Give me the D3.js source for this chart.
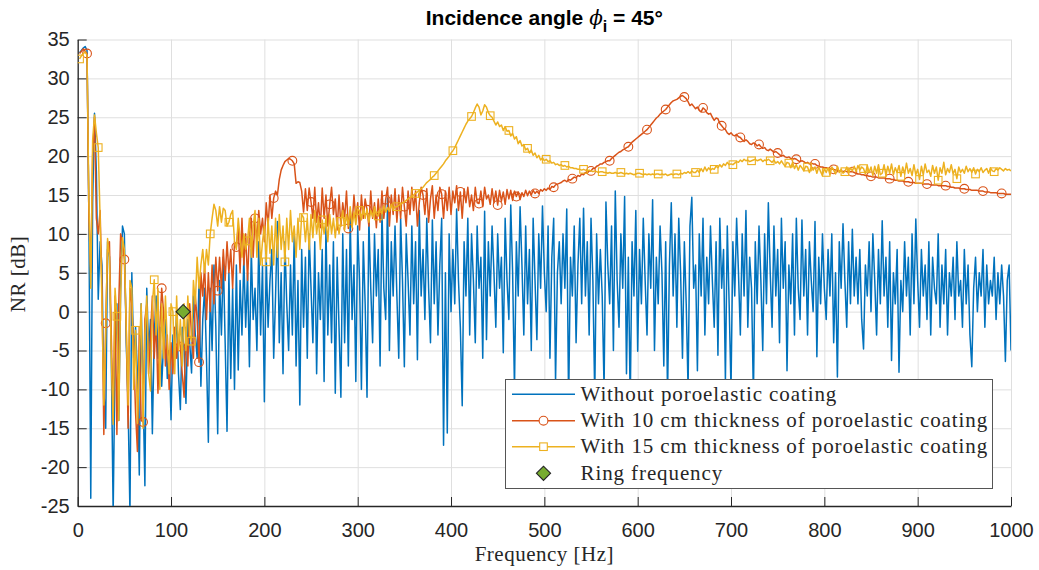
<!DOCTYPE html>
<html><head><meta charset="utf-8">
<script src="https://cdn.jsdelivr.net/npm/d3@7"></script>
<style>body{margin:0;background:#fff}</style>
</head><body><svg id="c" width="1039" height="570"></svg>
<script>
// ---------- data ----------
const freq = d3.range(2, 1001, 2); // Hz, 500 samples
const xTicks = [0,100,200,300,400,500,600,700,800,900,1000];
const yTicks = [-25,-20,-15,-10,-5,0,5,10,15,20,25,30,35];
const seriesNames = ["Without poroelastic coating","With 10 cm thickness of poroelastic coating","With 15 cm thickness of poroelastic coating","Ring frequency"];

const noCoating = [
33.3,33.6,33.9,34.1,33.6,12,-24,14,25.5,18,
1.6,9,6,-10,-15,9,7,-6,-26,-6,
1,-14,3,11,10,-4,-12,-26,5,-6,
-2,-8,-21,1,-10,-22.4,3,-5,-1,-15.7,
-3,2,-6,-2,-9.6,-4,-1,-8.6,-5,-13.9,
-3,-6,0,-8,-12.6,-2,-5,-11.8,-1,-4,
-7.9,2,-3,-6,4,-9.6,-1,3,-6,-16.8,
3,-5,6,-2,-15.7,4,-3,7,-4,-15.4,
5,-8.6,3,-10,6,-7.5,4,-3,7,-2,
5,-7.1,8,-1,3,-5,9,-3,6,-11.6,
7,-2,4,8,-6,2,11.6,-4,5,-8,
9,1,-5,6,-3,10,-7,4,-12,8,
-2,7,-6,10,3,-4,9,-8,5,-1,
8,-9,11,-3,6,-4,9,-10.5,7,-2,
-11,10,-4,8,-7,12,-1,6,-9,11,
4,-10,9,1,-11,12,3,-4,10,2,
8,-7,13,3,-1,14.6,-5,9,2,11,
2,-6,12,4,-7.1,10,4,-3,11,1,
9,-6.2,13,2,8,-1,12,3,-4,11.8,
1,9,-3,6,12,-17.2,5,-15.6,10,0,
8,1,13.2,4,-2,-12.1,9,2,12,-3,
10,4,-4,11,3,7,-6,12.9,-3.6,9,
2,11,5,-2,10,3,7,-5.3,12,4,
-1,13.7,5,-10,9,2,13.5,6,-3,11,
1,8,-5,12,4,-3.6,10,3,13.6,5,
0,11,-6,7,12,-9,5,9,1,10,
3,13.2,-12,7,2,11,-4,6,12,1,
13.3,2,9,-3,12,4,-11,10,1,8,
2,-10,14.1,6,1,11,-5,15.5,4,-2,
10,3,14.8,-8,7,-12,9,2,13,-5.1,
8,1,12,4,-3,10,3,14.4,-5,7,
1,11,5,-7,9,-11,6,14,2,10,
-2,12,5,-6,9,1,-10,11,14.7,3,
6,-7.6,10,2,12,-3,7,1,11,4,
-2,9,-5.6,12,3,8,-9,11,1,-10,
9,2,12,5,-3,10,2,13,-2,7,
3,-11,9,1,11,4,-5,10,1,14,
5,-2,11,2,8,-4,12,3,9,-7.6,
6,1,10,-3,12,3,-1,11.8,2,8,
-3,9,4,0,11.6,-5.8,7,1,10,3,
-1,8,2,10,-4,5,-8.4,9,3,11.3,
4,-2,9,1,10.6,2,7,1,8,-1,
-4.8,6,2,9,0,10,4,-3,8,1,
11.7,2,7,-2,9,-6.3,5,1,8,-7.8,
4,0,9,2,7,-3,10,1,11.9,4,
-2,8,2,6,-1,9,-3,7,3,1,
10,-2,6,1,8,-3,5,2,7,-1,
9,2,4,-2,8,1,6,-3,-7.1,3,
7,0,5,2,8,-2,6,1,4,2,
7,-1,5,1,6,2,-6.4,4,6,-5
];

const coating10 = [
33.2,33.5,33.8,33.5,33.2,12,5,20,25,12,
10,13,3,-15.8,-1.5,8,9,-3,-14,2,
-15.8,1,10,9,6.7,-2,-15,3,1,-5,
-13,-18,-2,-14,-14.2,-1,1,-8,-3,2,
-6,-1,-10.5,-2,3,0,-7,-3,-10,-4,
-8,-2,-6,-3,-4.5,-8,-11,-2,-7,1,
-3,-6,2,-1,-6.5,5,2,6,-1,5,
0,6,1,7,2.7,7,3,8,4,9,
5,8,3,9,8.3,11,5,12,6,10,
4,10,12,7,12,9,13,10,12,9,
14,11,15,12,14.6,15.5,15,17,18.2,18.8,
19.3,19.5,19.7,19.6,19.4,19,16.5,16.7,16.6,15.5,
12.8,15.8,13,15.9,14.1,12,16,11.5,14,10.8,
15.9,12,15,11,13.8,16,12.5,14.5,10.5,15,
11,14,12,15.5,10.7,13,11,15,12,14,
10.5,15,12,14.5,13.1,11,15.5,12,14,10.8,
14.5,11.5,15.5,12,14.4,16,11,15,12.5,15.8,
11.5,15,12,16,13.5,11,15.5,12.5,16,13,
15.5,11,14,16,15,12.5,15.8,11.5,14.5,16.2,
12,15,13,16,15.1,12,15.5,13,16,12.5,
15.5,14,16.2,13,15.4,12,15.8,14,16,13.5,
15,13,16,14,13.9,15.5,13.5,16,14.5,15,
13.8,15.8,14,15.5,13.7,15.6,14.2,15.4,13.8,15.7,
14.5,15.6,14.3,15.5,14.8,15.4,14.4,15.3,14.8,15.6,
14.9,15.5,15,15.6,15.2,15.5,15.2,15.7,15.5,15.8,
15.6,15.9,15.7,16.1,16.0,16.3,16.4,16.5,16.6,16.8,
16.9,16.7,17,16.9,17.1,17.3,17.2,17.5,17.4,17.7,
17.6,17.9,17.8,18.1,18.1,18.4,18.4,18.7,18.8,19.0,
19.0,19.2,19.3,19.4,19.4,19.7,19.9,20.1,20.3,20.5,
20.6,20.8,20.9,21.1,21.2,21.5,21.8,22.0,22.2,22.4,
22.6,22.8,23.0,23.2,23.4,23.7,24.0,24.3,24.6,24.9,
25.1,25.4,25.6,25.8,26.0,26.3,26.6,26.9,27.1,27.2,
27.3,27.5,27.7,27.8,27.6,27.4,27.0,26.5,26.7,26.4,
26.1,26.3,25.9,25.7,26.2,26.0,25.6,25.4,25.5,25.0,
24.6,24.9,24.8,24.2,23.9,23.6,23.4,23.0,22.8,23.0,
22.7,22.6,22.8,22.5,22.4,22.1,21.9,22.1,21.9,21.6,
21.5,21.7,21.6,21.3,21.5,21.2,21.0,21.1,20.8,20.7,
20.9,20.7,20.5,20.6,20.4,20.2,20.0,20.1,19.9,19.8,
19.9,19.7,19.6,19.7,19.6,19.4,19.3,19.4,19.3,19.1,
19.2,19.0,19.1,19.0,19.0,18.8,18.7,18.6,18.6,18.5,
18.5,18.4,18.4,18.3,18.3,18.2,18.2,18.1,18.1,18.0,
18.1,18.0,18.0,18.0,18.0,17.9,17.8,17.7,17.7,17.6,
17.6,17.5,17.5,17.4,17.4,17.3,17.3,17.3,17.2,17.2,
17.2,17.2,17.1,17.1,17.1,17.0,17.0,16.9,16.9,16.8,
16.8,16.8,16.7,16.7,16.7,16.6,16.6,16.6,16.5,16.5,
16.5,16.5,16.4,16.4,16.4,16.4,16.3,16.3,16.3,16.3,
16.2,16.2,16.2,16.2,16.2,16.1,16.1,16.0,16.0,15.9,
15.9,15.9,15.8,15.8,15.8,15.7,15.7,15.7,15.6,15.6,
15.6,15.6,15.5,15.5,15.5,15.4,15.4,15.4,15.3,15.3,
15.3,15.3,15.2,15.2,15.2,15.2,15.1,15.1,15.1,15.1
];

const coating15 = [
32.5,32.9,33.2,33.4,33.0,14,3,22,25.3,23,
21.1,12,1,-12,-3,9.4,7,-6,-14.5,3,
-0.6,-14,2,9.5,8,-2,-12,4,3,-10,
-2.4,-14.4,-6,1,-15,-3,2,-8,-10.2,1,
4.1,-3,3,-10,1,-6,2,-4,-8,1,
0,-8,2,-5,-1,-7,1,-5,2,-3,
-3.8,4,1,7,3,6,8,5,8,6,
10,12,13.8,13,11,13.5,11.5,13.3,13,11,
11.5,12.5,13,9,8,12,9.5,7,10,8,
9.1,12,7,11,13,7,12,6,9,11,
6.4,12,7.5,11,6,12,7,12.5,8,11,
6.4,12,8,13,9,11,7,12,8,12.5,
12.1,9,12,8,12.5,9.5,13,10,12,8,
11.8,10,12,9,12.5,10,12,9.5,12,10,
11.6,13,10.5,12.5,11,13.5,10.8,12.8,11.2,13.2,
13,11.8,13.4,12,13.2,11.5,13,12.2,13.5,12.5,
12.3,13.3,12.6,13.6,12.8,13.4,12.9,13.8,13.1,13.5,
13.5,13.7,13.8,14.0,14.1,14.3,14.5,14.7,14.8,15.0,
15.2,15.4,15.6,15.8,16.0,16.3,16.6,16.8,17.0,17.3,
17.5,17.8,18.1,18.4,18.7,19.0,19.4,19.7,20.0,20.4,
20.7,21.1,21.6,22.1,22.6,23.1,23.6,24.1,24.5,24.8,
25.1,25.6,26.2,26.7,26.3,25.3,25.8,26.6,26.3,25.6,
25.2,25.0,24.5,24.0,24.4,23.8,24.0,23.3,23.8,23.2,
23.3,22.6,22.9,22.2,22.5,21.6,22.0,21.3,21.5,20.8,
21.0,20.4,20.8,20.1,20.4,19.8,20.1,19.5,19.8,19.4,
19.6,19.3,19.4,19.1,19.2,18.9,19.0,18.8,18.9,18.7,
18.8,18.6,18.7,18.5,18.5,18.4,18.4,18.3,18.3,18.2,
18.3,18.2,18.1,18.2,18.1,18.0,18.1,18.0,17.9,18.0,
18.0,17.9,17.9,17.8,17.9,17.8,17.8,17.9,17.8,17.8,
17.9,17.8,17.7,17.8,17.7,17.8,17.7,17.6,17.7,17.8,
17.8,17.7,17.6,17.7,17.6,17.7,17.6,17.7,17.6,17.7,
17.7,17.6,17.7,17.6,17.7,17.5,17.6,17.7,17.6,17.7,
17.7,17.6,17.8,17.7,17.9,17.8,18.0,17.8,18.1,17.9,
17.9,18.2,17.9,18.4,18.0,18.6,18.1,18.5,18.2,18.4,
18.3,18.7,18.5,18.9,18.6,19.0,18.8,19.2,18.9,19.0,
18.9,19.1,19.3,19.2,19.5,19.3,19.6,19.4,19.5,19.3,
19.4,19.5,19.6,19.4,19.5,19.6,19.3,19.5,19.4,19.6,
19.4,19.2,19.5,19.1,19.3,19.0,19.4,19.0,18.7,19.2,
19.1,18.5,19.2,18.4,18.9,18.2,18.8,18.5,18.1,18.7,
18.6,17.9,18.7,18.2,18.6,17.8,18.6,18.0,17.5,18.4,
17.9,18.5,17.6,18.6,18.2,17.7,18.7,17.9,18.3,17.8,
18.0,18.6,17.8,18.5,18.1,18.7,18.0,18.8,18.2,18.6,
18.4,17.7,18.8,17.9,18.6,17.5,18.7,17.8,18.9,17.6,
17.8,18.9,17.5,18.7,17.8,19.0,17.6,18.5,17.9,18.8,
17.4,18.6,17.7,19.1,17.8,18.4,17.5,18.9,17.6,18.3,
17.0,18.7,17.6,19.0,17.9,18.2,17.4,18.8,17.8,18.6,
16.9,18.5,17.8,19.2,17.6,18.4,17.9,18.9,17.7,18.3,
17.1,18.6,17.9,18.3,17.8,18.7,18.0,18.4,17.9,18.5,
17.7,18.3,18.0,18.5,17.9,18.2,18.4,17.8,18.5,18.1,
18.0,18.4,18.2,18.5,18.3,18.1,18.4,18.2,18.3,18.1
];

const ringFrequency = [113];
const ringNR = [0];

// ---------- drawing ----------
const svg = d3.select('#c');
const x = d3.scaleLinear().domain([0,1000]).range([77.7,1011]);
const y = d3.scaleLinear().domain([-25,35]).range([506,39.5]);
const axisCol = '#262626', gridCol = '#dfdfdf';
const sans = '"Liberation Sans", Arial, sans-serif';
const serif = '"Liberation Serif", "Times New Roman", serif';
const colors = ['#0072BD','#D95319','#EDB120','#77AC30'];

// grid
svg.append('g').attr('transform',`translate(0,${y(-25)})`)
  .call(d3.axisBottom(x).tickValues(xTicks).tickSize(-(y(-25)-y(35))).tickFormat(''))
  .call(g=>{g.select('.domain').remove();g.selectAll('line').attr('stroke',gridCol);});
svg.append('g').attr('transform',`translate(${x(0)},0)`)
  .call(d3.axisLeft(y).tickValues(yTicks).tickSize(-(x(1000)-x(0))).tickFormat(''))
  .call(g=>{g.select('.domain').remove();g.selectAll('line').attr('stroke',gridCol);});

// axes
const fmt = d => d < 0 ? '-' + Math.abs(d) : String(d);
svg.append('g').attr('transform',`translate(0,${y(-25)})`)
  .call(d3.axisBottom(x).tickValues(xTicks).tickSizeInner(-9).tickSizeOuter(0).tickPadding(17).tickFormat(fmt))
  .call(g=>{
    g.select('.domain').attr('stroke',axisCol).attr('stroke-width',1.3);
    g.selectAll('line').attr('stroke',axisCol);
    g.selectAll('text').attr('fill',axisCol).style('font-family',sans).style('font-size','20px');
  });
svg.append('g').attr('transform',`translate(${x(0)},0)`)
  .call(d3.axisLeft(y).tickValues(yTicks).tickSizeInner(-9).tickSizeOuter(0).tickPadding(8).tickFormat(fmt))
  .call(g=>{
    g.select('.domain').attr('stroke',axisCol).attr('stroke-width',1.3);
    g.selectAll('line').attr('stroke',axisCol);
    g.selectAll('text').attr('fill',axisCol).style('font-family',sans).style('font-size','20px');
  });

// clip
svg.append('clipPath').attr('id','pc').append('rect')
  .attr('x',x(0)).attr('y',y(35)).attr('width',x(1000)-x(0)).attr('height',y(-25)-y(35));
const plot = svg.append('g').attr('clip-path','url(#pc)');

const line = d3.line().x((d,i)=>x(freq[i])).y(d=>y(d));

// series 1
plot.append('path').attr('d',line(noCoating)).attr('fill','none').attr('stroke',colors[0]).attr('stroke-width',1.5).attr('stroke-linejoin','round');
// series 2
plot.append('path').attr('d',line(coating10)).attr('fill','none').attr('stroke',colors[1]).attr('stroke-width',1.5).attr('stroke-linejoin','round');
const idx10 = d3.range(4, 500, 10);
plot.selectAll('.c10').data(idx10).enter().append('circle')
  .attr('cx',i=>x(freq[i])).attr('cy',i=>y(coating10[i])).attr('r',4.4)
  .attr('fill','none').attr('stroke',colors[1]).attr('stroke-width',1.1);
// series 3
plot.append('path').attr('d',line(coating15)).attr('fill','none').attr('stroke',colors[2]).attr('stroke-width',1.5).attr('stroke-linejoin','round');
const idx15 = d3.range(0, 500, 10);
plot.selectAll('.s15').data(idx15).enter().append('rect')
  .attr('x',i=>x(freq[i])-3.8).attr('y',i=>y(coating15[i])-3.8).attr('width',7.6).attr('height',7.6)
  .attr('fill','none').attr('stroke',colors[2]).attr('stroke-width',1.1);
// ring frequency
const diamond = d3.symbol(d3.symbolSquare, 100);
plot.selectAll('.ring').data(ringFrequency).enter().append('path')
  .attr('d',diamond)
  .attr('transform',(d,i)=>`translate(${x(d)},${y(ringNR[i])}) rotate(45)`)
  .attr('fill',colors[3]).attr('stroke',axisCol).attr('stroke-width',1.1);

// title
const title = svg.append('text').attr('x',(x(0)+x(1000))/2).attr('y',25).attr('text-anchor','middle')
  .style('font-family',sans).style('font-size','21px').style('font-weight','bold').attr('fill','#000');
title.append('tspan').text('Incidence angle ');
title.append('tspan').text('\u03D5').style('font-family','"DejaVu Serif", serif').style('font-style','italic').style('font-weight','normal').style('font-size','20px');
title.append('tspan').text('i').attr('dy',7).style('font-size','16px');
title.append('tspan').text(' = 45\u00B0').attr('dy',-7);

// axis labels
svg.append('text').attr('x',(x(0)+x(1000))/2).attr('y',561).attr('text-anchor','middle')
  .style('font-family',serif).style('font-size','21px').style('letter-spacing','0.5px').attr('fill','#262626').text('Frequency [Hz]');
svg.append('text').attr('transform','translate(25,274) rotate(-90)').attr('text-anchor','middle')
  .style('font-family',serif).style('font-size','21px').style('letter-spacing','0.5px').attr('fill','#262626').text('NR [dB]');

// legend
const lg = svg.append('g');
lg.append('rect').attr('x',505.5).attr('y',379.5).attr('width',487).attr('height',109)
  .attr('fill','#fff').attr('stroke','#555').attr('stroke-width',1);
const rowsY = [394.3, 420.7, 446.7, 473.3];
seriesNames.forEach((name,k)=>{
  const ry = rowsY[k];
  if (k < 3) lg.append('line').attr('x1',512).attr('x2',575).attr('y1',ry).attr('y2',ry)
      .attr('stroke',colors[k]).attr('stroke-width',1.5);
  if (k === 1) lg.append('circle').attr('cx',543.5).attr('cy',ry).attr('r',4.4).attr('fill','#fff').attr('stroke',colors[1]).attr('stroke-width',1.1);
  if (k === 2) lg.append('rect').attr('x',543.5-3.8).attr('y',ry-3.8).attr('width',7.6).attr('height',7.6).attr('fill','#fff').attr('stroke',colors[2]).attr('stroke-width',1.1);
  if (k === 3) lg.append('path').attr('d',diamond).attr('transform',`translate(543.5,${ry}) rotate(45)`).attr('fill',colors[3]).attr('stroke',axisCol).attr('stroke-width',1.1);
  lg.append('text').attr('x',580.5).attr('y',ry+6.5)
    .style('font-family',serif).style('font-size','21px').style('letter-spacing','0.9px').attr('fill','#262626').text(name);
});
</script>
</body></html>
